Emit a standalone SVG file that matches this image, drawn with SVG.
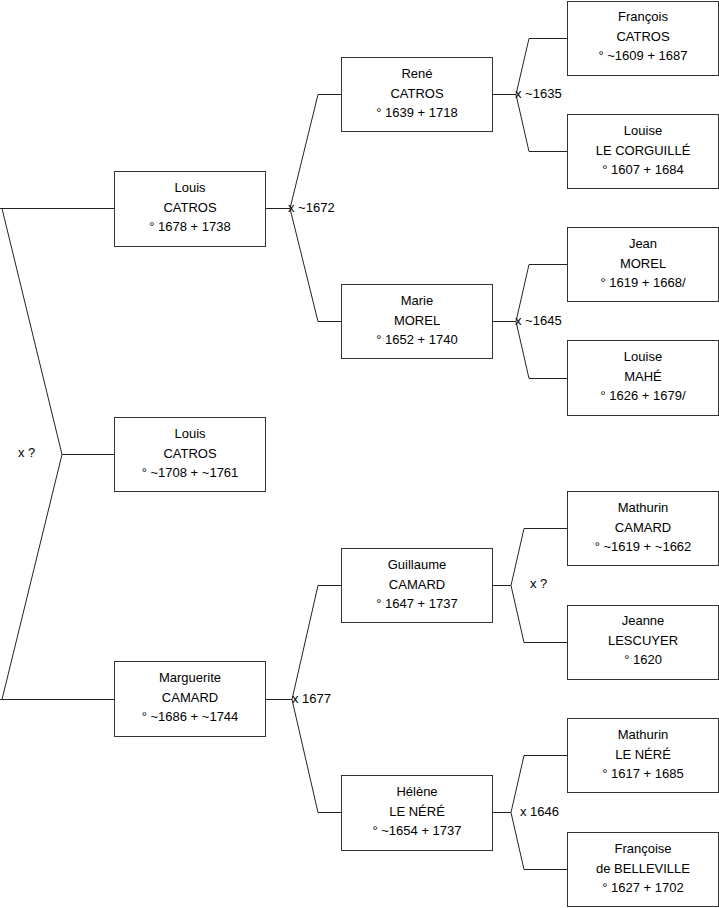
<svg xmlns="http://www.w3.org/2000/svg" width="719" height="908" viewBox="0 0 719 908">
<style>
.box{fill:#fff;stroke:#333;stroke-width:1}
.t{font-family:"Liberation Sans",Arial,sans-serif;font-size:13px;fill:#000;text-anchor:middle}
.l{font-family:"Liberation Sans",Arial,sans-serif;font-size:13px;fill:#000}
.c{fill:none;stroke:#222;stroke-width:1}
</style>
<rect width="719" height="908" fill="#fff"/>
<g id="connectors">
<polyline class="c" points="0,208.5 114,208.5"/>
<polyline class="c" points="2,208.5 62,454.5 2,699.5"/>
<polyline class="c" points="62,454.5 114,454.5"/>
<polyline class="c" points="0,699.5 114,699.5"/>
<polyline class="c" points="265,208.5 290,208.5"/>
<polyline class="c" points="341,94.5 318,94.5 290,208.5 318,321.5 341,321.5"/>
<polyline class="c" points="265,699.5 292,699.5"/>
<polyline class="c" points="341,585.5 318,585.5 292,699.5 318,812.5 341,812.5"/>
<polyline class="c" points="492,94.5 516,94.5"/>
<polyline class="c" points="567,38.5 529,38.5 516,94.5 529,151.5 567,151.5"/>
<polyline class="c" points="492,321.5 516,321.5"/>
<polyline class="c" points="567,264.5 529,264.5 516,321.5 529,378.5 567,378.5"/>
<polyline class="c" points="492,585.5 511,585.5"/>
<polyline class="c" points="567,528.5 524,528.5 511,585.5 524,642.5 567,642.5"/>
<polyline class="c" points="492,812.5 511,812.5"/>
<polyline class="c" points="567,755.5 524,755.5 511,812.5 524,869.5 567,869.5"/>
<text class="l" x="18" y="457">x ?</text>
<text class="l" x="288" y="212">x ~1672</text>
<text class="l" x="292" y="703">x 1677</text>
<text class="l" x="515" y="98">x ~1635</text>
<text class="l" x="515" y="325">x ~1645</text>
<text class="l" x="530" y="588">x ?</text>
<text class="l" x="520" y="816">x 1646</text>
</g>
<g id="n1"><rect class="box" x="114.5" y="171.5" width="151" height="75"/><text class="t" x="190" y="192">Louis</text><text class="t" x="190" y="212">CATROS</text><text class="t" x="190" y="231">° 1678 + 1738</text></g>
<g id="n2"><rect class="box" x="114.5" y="417.5" width="151" height="74"/><text class="t" x="190" y="438">Louis</text><text class="t" x="190" y="458">CATROS</text><text class="t" x="190" y="477">° ~1708 + ~1761</text></g>
<g id="n3"><rect class="box" x="114.5" y="661.5" width="151" height="75"/><text class="t" x="190" y="682">Marguerite</text><text class="t" x="190" y="702">CAMARD</text><text class="t" x="190" y="721">° ~1686 + ~1744</text></g>
<g id="n4"><rect class="box" x="341.5" y="57.5" width="151" height="74"/><text class="t" x="417" y="78">René</text><text class="t" x="417" y="98">CATROS</text><text class="t" x="417" y="117">° 1639 + 1718</text></g>
<g id="n5"><rect class="box" x="341.5" y="284.5" width="151" height="74"/><text class="t" x="417" y="305">Marie</text><text class="t" x="417" y="325">MOREL</text><text class="t" x="417" y="344">° 1652 + 1740</text></g>
<g id="n6"><rect class="box" x="341.5" y="548.5" width="151" height="74"/><text class="t" x="417" y="569">Guillaume</text><text class="t" x="417" y="589">CAMARD</text><text class="t" x="417" y="608">° 1647 + 1737</text></g>
<g id="n7"><rect class="box" x="341.5" y="775.5" width="151" height="75"/><text class="t" x="417" y="796">Hélène</text><text class="t" x="417" y="816">LE NÉRÉ</text><text class="t" x="417" y="835">° ~1654 + 1737</text></g>
<g id="n8"><rect class="box" x="567.5" y="1.5" width="151" height="74"/><text class="t" x="643" y="21">François</text><text class="t" x="643" y="41">CATROS</text><text class="t" x="643" y="60">° ~1609 + 1687</text></g>
<g id="n9"><rect class="box" x="567.5" y="114.5" width="151" height="74"/><text class="t" x="643" y="135">Louise</text><text class="t" x="643" y="155">LE CORGUILLÉ</text><text class="t" x="643" y="174">° 1607 + 1684</text></g>
<g id="n10"><rect class="box" x="567.5" y="227.5" width="151" height="74"/><text class="t" x="643" y="248">Jean</text><text class="t" x="643" y="268">MOREL</text><text class="t" x="643" y="287">° 1619 + 1668/</text></g>
<g id="n11"><rect class="box" x="567.5" y="340.5" width="151" height="75"/><text class="t" x="643" y="361">Louise</text><text class="t" x="643" y="381">MAHÉ</text><text class="t" x="643" y="400">° 1626 + 1679/</text></g>
<g id="n12"><rect class="box" x="567.5" y="491.5" width="151" height="74"/><text class="t" x="643" y="512">Mathurin</text><text class="t" x="643" y="532">CAMARD</text><text class="t" x="643" y="551">° ~1619 + ~1662</text></g>
<g id="n13"><rect class="box" x="567.5" y="605.5" width="151" height="74"/><text class="t" x="643" y="625">Jeanne</text><text class="t" x="643" y="645">LESCUYER</text><text class="t" x="643" y="664">° 1620</text></g>
<g id="n14"><rect class="box" x="567.5" y="718.5" width="151" height="74"/><text class="t" x="643" y="739">Mathurin</text><text class="t" x="643" y="759">LE NÉRÉ</text><text class="t" x="643" y="778">° 1617 + 1685</text></g>
<g id="n15"><rect class="box" x="567.5" y="832.5" width="151" height="74"/><text class="t" x="643" y="853">Françoise</text><text class="t" x="643" y="873">de BELLEVILLE</text><text class="t" x="643" y="892">° 1627 + 1702</text></g>
</svg>
